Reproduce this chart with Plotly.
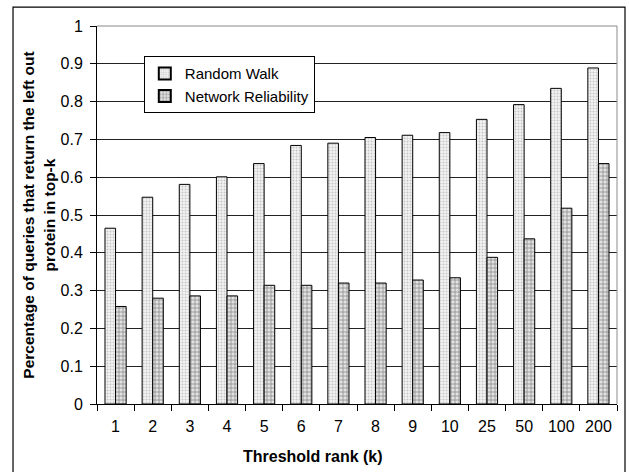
import plotly.graph_objects as go

# Threshold ranks (k) and the fraction of queries that return the held-out protein in top-k
ranks = ["1", "2", "3", "4", "5", "6", "7", "8", "9", "10", "25", "50", "100", "200"]
random_walk = [0.465, 0.547, 0.581, 0.601, 0.636, 0.684, 0.690, 0.705, 0.711, 0.718,
               0.753, 0.792, 0.835, 0.889]
network_reliability = [0.258, 0.280, 0.286, 0.286, 0.314, 0.314, 0.320, 0.320, 0.328, 0.334,
                       0.388, 0.437, 0.518, 0.636]
y_ticks = [0, 0.1, 0.2, 0.3, 0.4, 0.5, 0.6, 0.7, 0.8, 0.9, 1]

FONT = "Liberation Sans, Arial, sans-serif"
FS = 16

fig = go.Figure()
fig.add_trace(go.Bar(
    x=ranks, y=random_walk, name="Random Walk",
    marker=dict(
        color="#eeeeee",
        line=dict(color="#000000", width=1),
        pattern=dict(shape=".", fgcolor="#9a9a9a", bgcolor="#f2f2f2", size=3, solidity=0.35),
    ),
))
fig.add_trace(go.Bar(
    x=ranks, y=network_reliability, name="Network Reliability",
    marker=dict(
        color="#dddddd",
        line=dict(color="#000000", width=1),
        pattern=dict(shape="+", fgcolor="#333333", bgcolor="#e2e2e2", size=4, solidity=0.35),
    ),
))

fig.update_layout(
    width=629, height=472,
    margin=dict(l=97, r=12, t=26, b=68),
    paper_bgcolor="white", plot_bgcolor="white",
    font=dict(family=FONT, size=FS, color="#000000"),
    barmode="group", bargap=0.43, bargroupgap=0,
    showlegend=True,
    legend=dict(
        x=0.09, y=0.92, xanchor="left", yanchor="top",
        bgcolor="white", bordercolor="#000000", borderwidth=1,
        font=dict(family=FONT, size=15), tracegroupgap=0,
        itemsizing="constant",
    ),
    xaxis=dict(
        type="category", tickson="boundaries",
        ticks="outside", ticklen=6, tickcolor="#000000",
        showline=True, linecolor="#000000", linewidth=1,
        showgrid=False, tickfont=dict(size=FS), ticklabelstandoff=8,
    ),
    yaxis=dict(
        range=[0, 1], tickvals=y_ticks, ticktext=[f"{v:g}" for v in y_ticks],
        ticks="outside", ticklen=6, tickcolor="#000000",
        showline=True, linecolor="#000000", linewidth=1,
        showgrid=True, gridcolor="#222222", gridwidth=1,
        zeroline=False, tickfont=dict(size=FS), ticklabelstandoff=4,
        title=dict(
            text="<b>Percentage of queries that return the left out<br>protein in top-k</b>",
            font=dict(size=15.5), standoff=1,
        ),
    ),
    shapes=[
        # gray frame on top and right of the plotting area
        dict(type="line", xref="paper", yref="paper", x0=0, x1=1, y0=1, y1=1,
             line=dict(color="#8a8a8a", width=1)),
        dict(type="line", xref="paper", yref="paper", x0=1, x1=1, y0=0, y1=1,
             line=dict(color="#8a8a8a", width=1)),
        # outer chart border
        dict(type="rect", xref="paper", yref="paper",
             x0=-0.1615, x1=1.0154, y0=-0.25, y1=1.050,
             line=dict(color="#000000", width=1.2), fillcolor="rgba(0,0,0,0)"),
    ],
    annotations=[
        dict(text="<b>Threshold rank (k)</b>", xref="paper", yref="paper",
             x=0.415, y=-0.14, xanchor="center", yanchor="middle",
             showarrow=False, font=dict(size=FS)),
    ],
)

fig.write_html("out.html")
